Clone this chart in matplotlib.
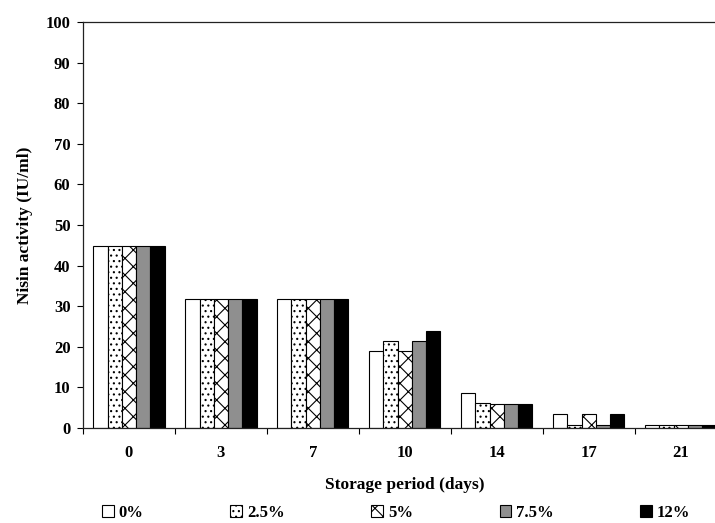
import numpy as np
import matplotlib
matplotlib.use("Agg")
import matplotlib.pyplot as plt
from matplotlib.patches import Patch

plt.rcParams['font.family'] = ['Liberation Serif', 'DejaVu Serif']
plt.rcParams['font.weight'] = 'bold'
plt.rcParams['hatch.linewidth'] = 0.8

days = ["0", "3", "7", "10", "14", "17", "21"]
levels = ["0%", "2.5%", "5%", "7.5%", "12%"]

# nisin activity (IU/ml) per salt level
act_0 = [44.8, 31.8, 31.8, 19.0, 8.6, 3.5, 0.8]
act_25 = [44.8, 31.8, 31.8, 21.4, 6.2, 0.8, 0.8]
act_5 = [44.8, 31.8, 31.8, 19.0, 5.8, 3.5, 0.8]
act_75 = [44.8, 31.8, 31.8, 21.4, 5.8, 0.7, 0.8]
act_12 = [44.8, 31.8, 31.8, 24.0, 5.8, 3.5, 0.8]
series = [act_0, act_25, act_5, act_75, act_12]

faces = ["white", "white", "white", "#8f8f8f", "black"]
hatches = [None, "...", "xx", None, None]

fig = plt.figure(figsize=(7.15, 5.23), dpi=100)
ax = fig.add_axes([83 / 715, 1 - 428 / 523, 643.6 / 715, 406 / 523])

x = np.arange(len(days))
w = 0.155
for i, vals in enumerate(series):
    ax.bar(x + (i - 2) * w, vals, w, color=faces[i], edgecolor="black",
           hatch=hatches[i], linewidth=0.8, zorder=2)

ax.set_xlim(-0.5, len(days) - 0.5)
ax.set_ylim(0, 100)
ax.set_yticks(np.arange(0, 101, 10))
ax.set_xticks(x)
ax.set_xticklabels(days)
ax.set_xticks(np.arange(-0.5, len(days) - 0.4, 1), minor=True)
ax.tick_params(axis="x", which="major", length=0, pad=12, labelsize=12)
ax.tick_params(axis="x", which="minor", length=4, width=0.8, direction="out")
ax.tick_params(axis="y", length=4, width=0.8, direction="out", pad=5, labelsize=12)
for s in ["left", "top", "bottom", "right"]:
    ax.spines[s].set_linewidth(0.9)
    ax.spines[s].set_color("#222222")

ax.set_xlabel("Storage period (days)", fontsize=12.5, fontweight="bold", labelpad=12)
ax.set_ylabel("Nisin activity (IU/ml)", fontsize=12.5, fontweight="bold", labelpad=9)

handles = [Patch(facecolor=faces[i], edgecolor="black", hatch=hatches[i],
                 linewidth=0.8, label=levels[i]) for i in range(5)]
fig.legend(handles=handles, loc="center left", bbox_to_anchor=(102 / 715, 1 - 513 / 523),
           ncol=5, frameon=False, fontsize=12, handlelength=0.7, handleheight=0.7,
           handletextpad=0.3, columnspacing=5.2, borderaxespad=0, borderpad=0)

fig.savefig("out.png", dpi=100)
